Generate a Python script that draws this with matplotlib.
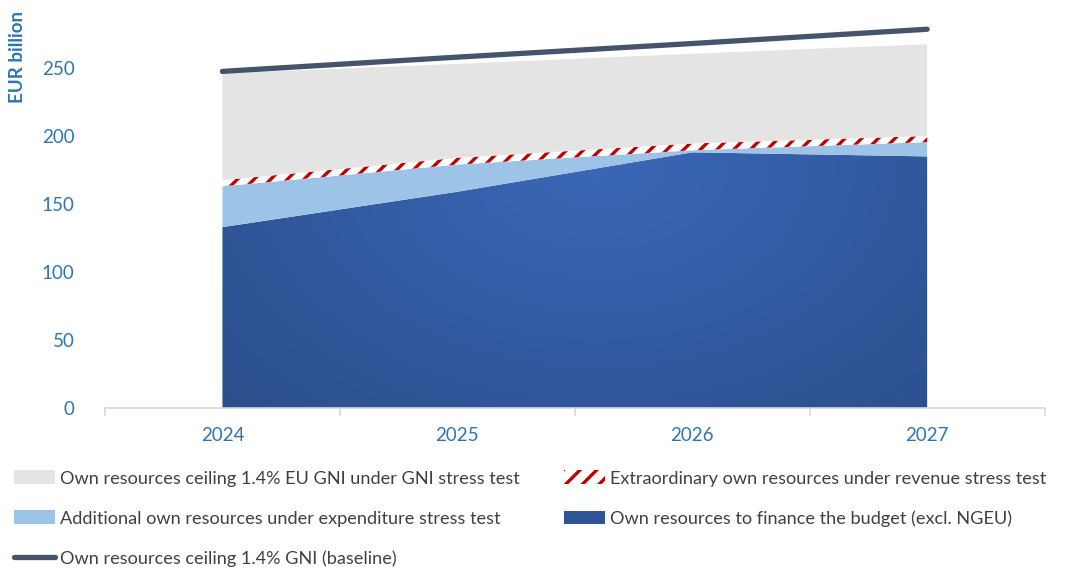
import numpy as np
import matplotlib
matplotlib.use("Agg")
import matplotlib.pyplot as plt
from matplotlib.patches import Patch, PathPatch
from matplotlib.lines import Line2D
from matplotlib.colors import LinearSegmentedColormap

# data (EUR billion)
years = ["2024", "2025", "2026", "2027"]
own_budget = [133, 159, 188, 185]
add_expenditure = [30, 20, 1.5, 10.5]
extra_revenue = [4.5, 5, 5, 4.5]
gni_stress = [78.5, 69, 66, 67.5]
ceiling_baseline = [247.5, 258, 268, 278.5]

labels = [
    "Own resources ceiling 1.4% EU GNI under GNI stress test",
    "Extraordinary own resources under revenue stress test",
    "Additional own resources under expenditure stress test",
    "Own resources to finance the budget (excl. NGEU)",
    "Own resources ceiling 1.4% GNI (baseline)",
]

FONT = ["Lato", "DejaVu Sans"]
plt.rcParams["font.family"] = FONT
plt.rcParams["hatch.linewidth"] = 2.4

BLUE_TXT = "#2e75b6"
GREY = "#e4e4e4"
LIGHT = "#9dc3e6"
DARK = "#2f5597"
RED = "#c00000"
LINE = "#44546a"

fig = plt.figure(figsize=(10.67, 5.75), dpi=100)
ax = fig.add_axes([0.0984, 0.2904, 0.8806, 0.7096])

x = np.arange(len(years))
b1 = np.array(own_budget, dtype=float)
b2 = b1 + np.array(add_expenditure)
b3 = b2 + np.array(extra_revenue)
b4 = b3 + np.array(gni_stress)

# dark blue area with a soft radial gradient
base = ax.fill_between(x, 0, b1, facecolor="none", lw=0)
clip = PathPatch(base.get_paths()[0], transform=ax.transData, fc="none", lw=0)
ax.add_patch(clip)
gx, gy = np.meshgrid(np.linspace(-0.5, 3.5, 400), np.linspace(0, 300, 300))
r = np.sqrt(((gx - 1.6) / 2.2) ** 2 + ((gy - 180) / 260) ** 2)
cmap = LinearSegmentedColormap.from_list("g", ["#3a67b8", "#2c4f8c"])
im = ax.imshow(np.clip(r, 0, 1), cmap=cmap, vmin=0, vmax=1, origin="lower",
               extent=(-0.5, 3.5, 0, 300), aspect="auto", zorder=1)
im.set_clip_path(clip)

ax.fill_between(x, b1, b2, facecolor=LIGHT, lw=0, zorder=1)
ax.fill_between(x, b2, b3, facecolor="white", edgecolor=RED, hatch="//", lw=0, zorder=1)
ax.fill_between(x, b3, b4, facecolor=GREY, lw=0, zorder=1)
ax.plot(x, ceiling_baseline, color=LINE, lw=3.8, solid_capstyle="round", zorder=3)

ax.set_xlim(-0.5, 3.5)
ax.set_ylim(0, 300)
ax.set_yticks([0, 50, 100, 150, 200, 250])
ax.set_xticks(x)
ax.set_xticklabels(years)
ax.set_xticks(np.arange(-0.5, 4, 1), minor=True)
ax.tick_params(axis="y", length=0, pad=22, labelsize=13.5, labelcolor=BLUE_TXT)
ax.tick_params(axis="x", which="major", length=0, pad=14, labelsize=13.5, labelcolor=BLUE_TXT)
ax.tick_params(axis="x", which="minor", length=6, color="#d9d9d9", width=1.2)
for s in ["top", "right", "left"]:
    ax.spines[s].set_visible(False)
ax.spines["bottom"].set_color("#d9d9d9")
ax.spines["bottom"].set_linewidth(1.2)
ax.set_facecolor("none")

fig.text(18 / 1067, 1 - 57 / 575, "EUR billion", rotation=90, ha="center", va="center",
         fontsize=13.5, fontweight="bold", color=BLUE_TXT)

handles = [
    Patch(facecolor=GREY, lw=0),
    Patch(facecolor=LIGHT, lw=0),
    Line2D([0], [0], color=LINE, lw=3.8, solid_capstyle="round"),
    Patch(facecolor="white", edgecolor=RED, hatch="//", lw=0),
    Patch(facecolor=DARK, lw=0),
]
order = [labels[0], labels[2], labels[4], labels[1], labels[3]]
leg = fig.legend(handles, order, ncol=2, loc="upper left", bbox_to_anchor=(0.013, 0.182),
                 frameon=False, fontsize=13.1, handlelength=2.25, handleheight=0.8,
                 handletextpad=0.3, columnspacing=2.4, labelspacing=1.3,
                 borderaxespad=0, borderpad=0)
for t in leg.get_texts():
    t.set_color("#404040")

fig.savefig("out.png", dpi=100)
